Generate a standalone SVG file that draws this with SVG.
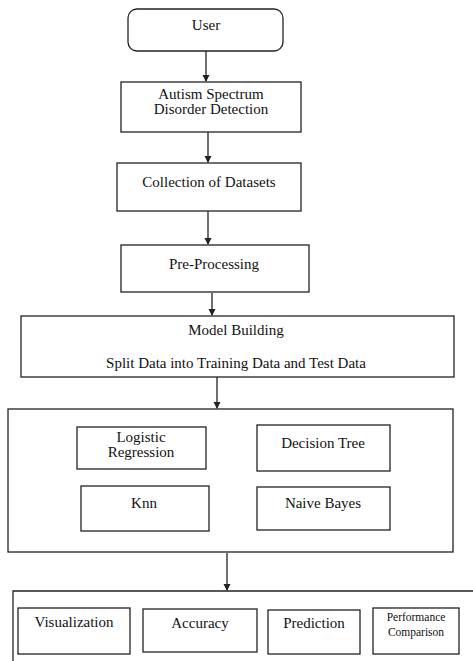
<svg xmlns="http://www.w3.org/2000/svg" width="473" height="661" viewBox="0 0 473 661">
<style>
.b{fill:#fff;stroke:#222;stroke-width:1.3}
.t{font-family:'Liberation Serif','DejaVu Serif','Times New Roman',serif;font-size:15px;fill:#111;text-anchor:middle}
.s{font-size:11.5px}
.c{stroke:#222;stroke-width:1.3;fill:none}
</style>
<defs>
<marker id="ah" markerWidth="8" markerHeight="8" refX="6" refY="3.5" orient="auto" markerUnits="userSpaceOnUse">
<path d="M0,0 L7,3.5 L0,7 Z" fill="#222"/>
</marker>
</defs>
<rect width="473" height="661" fill="#fff"/>
<g id="connectors">
<line class="c" x1="206" y1="51" x2="206" y2="81" marker-end="url(#ah)"/>
<line class="c" x1="208" y1="132" x2="208" y2="162" marker-end="url(#ah)"/>
<line class="c" x1="208" y1="211" x2="208" y2="244" marker-end="url(#ah)"/>
<line class="c" x1="212" y1="293" x2="212" y2="315" marker-end="url(#ah)"/>
<line class="c" x1="217" y1="377" x2="217" y2="408" marker-end="url(#ah)"/>
<line class="c" x1="227" y1="553" x2="227" y2="590" marker-end="url(#ah)"/>
</g>
<g id="user"><rect class="b" x="128" y="9" width="155" height="42" rx="9"/><text class="t" x="206" y="30">User</text></g>
<g id="asd"><rect class="b" x="121" y="82" width="180" height="50"/><text class="t" x="211" y="99">Autism Spectrum</text><text class="t" x="211" y="114">Disorder Detection</text></g>
<g id="collection"><rect class="b" x="117" y="163" width="184" height="48"/><text class="t" x="209" y="187">Collection of Datasets</text></g>
<g id="preprocessing"><rect class="b" x="121" y="245" width="188" height="47"/><text class="t" x="214" y="269">Pre-Processing</text></g>
<g id="model"><rect class="b" x="21" y="316" width="433" height="61"/><text class="t" x="236" y="335">Model Building</text><text class="t" x="236" y="368">Split Data into Training Data and Test Data</text></g>
<g id="algorithms"><rect class="b" x="8" y="409" width="445" height="143"/></g>
<g id="logistic"><rect class="b" x="77" y="427" width="129" height="42"/><text class="t" x="141" y="442">Logistic</text><text class="t" x="141" y="457">Regression</text></g>
<g id="decisiontree"><rect class="b" x="257" y="425" width="133" height="46"/><text class="t" x="323" y="448">Decision Tree</text></g>
<g id="knn"><rect class="b" x="81" y="486" width="128" height="45"/><text class="t" x="144" y="508">Knn</text></g>
<g id="naivebayes"><rect class="b" x="257" y="487" width="133" height="43"/><text class="t" x="323" y="508">Naive Bayes</text></g>
<g id="results"><path class="c" d="M13,661 L13,591 L473,591"/></g>
<g id="visualization"><rect class="b" x="18" y="608" width="112" height="46"/><text class="t" x="74" y="627">Visualization</text></g>
<g id="accuracy"><rect class="b" x="143" y="609" width="114" height="43"/><text class="t" x="200" y="628">Accuracy</text></g>
<g id="prediction"><rect class="b" x="268" y="610" width="92" height="44"/><text class="t" x="314" y="628">Prediction</text></g>
<g id="performance"><rect class="b" x="373" y="608" width="86" height="46"/><text class="t s" x="416" y="621">Performance</text><text class="t s" x="416" y="636">Comparison</text></g>
</svg>
